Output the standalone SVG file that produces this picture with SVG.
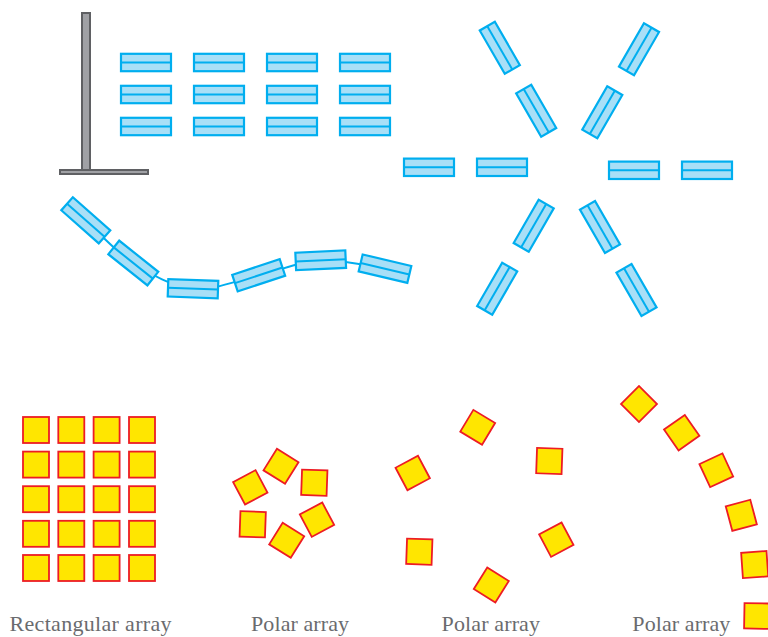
<svg xmlns="http://www.w3.org/2000/svg" xmlns:xlink="http://www.w3.org/1999/xlink" width="768" height="637" viewBox="0 0 768 637">
<style>
.panel rect{fill:#a8dff7;stroke:#00aeef;stroke-width:2.2}
.panel line{stroke:#00aeef;stroke-width:2}
.sq{fill:#ffe600;stroke:#ed1c24;stroke-width:1.8}
.pole{fill:#a0a1a5;stroke:#5f6063;stroke-width:2}
.lbl{font-family:"Liberation Serif","Times New Roman",serif;font-size:22px;fill:#6a6b6e}
.curve{fill:none;stroke:#00aeef;stroke-width:2}
</style>
<defs>
<g id="panel" class="panel"><rect x="-25" y="-8.7" width="50" height="17.4"/><line x1="-25" y1="0" x2="25" y2="0"/></g>
<rect id="sqg" class="sq" x="-13" y="-13" width="26" height="26"/>
<rect id="sqp" class="sq" x="-12.7" y="-12.7" width="25.4" height="25.4"/>
</defs>
<rect width="768" height="637" fill="#ffffff"/>

<g id="stand">
<rect class="pole" x="82" y="13" width="8" height="157"/>
<rect class="pole" x="60" y="170" width="88" height="4"/>
</g>

<g id="rect-array-panels">
<use xlink:href="#panel" transform="translate(146,62.5)"/>
<use xlink:href="#panel" transform="translate(219,62.5)"/>
<use xlink:href="#panel" transform="translate(292,62.5)"/>
<use xlink:href="#panel" transform="translate(365,62.5)"/>
<use xlink:href="#panel" transform="translate(146,94.5)"/>
<use xlink:href="#panel" transform="translate(219,94.5)"/>
<use xlink:href="#panel" transform="translate(292,94.5)"/>
<use xlink:href="#panel" transform="translate(365,94.5)"/>
<use xlink:href="#panel" transform="translate(146,126.5)"/>
<use xlink:href="#panel" transform="translate(219,126.5)"/>
<use xlink:href="#panel" transform="translate(292,126.5)"/>
<use xlink:href="#panel" transform="translate(365,126.5)"/>
</g>

<g id="polar-panels">
<use xlink:href="#panel" transform="translate(429,167.3)"/>
<use xlink:href="#panel" transform="translate(502,167.3)"/>
<use xlink:href="#panel" transform="translate(634,170.3)"/>
<use xlink:href="#panel" transform="translate(707,170.3)"/>
<use xlink:href="#panel" transform="translate(536.2,110.7) rotate(60)"/>
<use xlink:href="#panel" transform="translate(499.8,47.8) rotate(60)"/>
<use xlink:href="#panel" transform="translate(600,227) rotate(60)"/>
<use xlink:href="#panel" transform="translate(636.5,290) rotate(60)"/>
<use xlink:href="#panel" transform="translate(602.3,112.3) rotate(-60)"/>
<use xlink:href="#panel" transform="translate(639,49.3) rotate(-60)"/>
<use xlink:href="#panel" transform="translate(533.7,225.7) rotate(-60)"/>
<use xlink:href="#panel" transform="translate(497.2,288.7) rotate(-60)"/>
</g>

<g id="connectors">
<path class="curve" d="M85.8,220.3 C93.7,227.4 115.4,251.6 133.3,263 C151.2,274.4 172.1,286.6 193,288.7 C213.9,290.8 237.4,280 258.7,275.3 C280,270.6 299.7,261.4 320.7,260.3 C341.8,259.2 374.3,267.3 385,268.7"/>
</g>

<g id="path-array-panels">
<use xlink:href="#panel" transform="translate(85.8,220.3) rotate(41.5)"/>
<use xlink:href="#panel" transform="translate(133.3,263) rotate(38.6)"/>
<use xlink:href="#panel" transform="translate(193,288.7) rotate(2)"/>
<use xlink:href="#panel" transform="translate(258.7,275.3) rotate(-18.3)"/>
<use xlink:href="#panel" transform="translate(320.7,260.3) rotate(-2.6)"/>
<use xlink:href="#panel" transform="translate(385,268.7) rotate(13.3)"/>
</g>

<g id="rectangular-array">
<use xlink:href="#sqg" transform="translate(36,430)"/>
<use xlink:href="#sqg" transform="translate(71.3,430)"/>
<use xlink:href="#sqg" transform="translate(106.6,430)"/>
<use xlink:href="#sqg" transform="translate(142,430)"/>
<use xlink:href="#sqg" transform="translate(36,464.6)"/>
<use xlink:href="#sqg" transform="translate(71.3,464.6)"/>
<use xlink:href="#sqg" transform="translate(106.6,464.6)"/>
<use xlink:href="#sqg" transform="translate(142,464.6)"/>
<use xlink:href="#sqg" transform="translate(36,499.2)"/>
<use xlink:href="#sqg" transform="translate(71.3,499.2)"/>
<use xlink:href="#sqg" transform="translate(106.6,499.2)"/>
<use xlink:href="#sqg" transform="translate(142,499.2)"/>
<use xlink:href="#sqg" transform="translate(36,533.8)"/>
<use xlink:href="#sqg" transform="translate(71.3,533.8)"/>
<use xlink:href="#sqg" transform="translate(106.6,533.8)"/>
<use xlink:href="#sqg" transform="translate(142,533.8)"/>
<use xlink:href="#sqg" transform="translate(36,568)"/>
<use xlink:href="#sqg" transform="translate(71.3,568)"/>
<use xlink:href="#sqg" transform="translate(106.6,568)"/>
<use xlink:href="#sqg" transform="translate(142,568)"/>
<text class="lbl" x="9.5" y="630.5" textLength="162">Rectangular array</text>
</g>

<g id="polar-array-1">
<use xlink:href="#sqp" transform="translate(250.3,487.3) rotate(-28)"/>
<use xlink:href="#sqp" transform="translate(281,466.3) rotate(32)"/>
<use xlink:href="#sqp" transform="translate(314.3,482.7) rotate(2)"/>
<use xlink:href="#sqp" transform="translate(317,519.7) rotate(-28)"/>
<use xlink:href="#sqp" transform="translate(286.7,540.3) rotate(32)"/>
<use xlink:href="#sqp" transform="translate(252.7,524.3) rotate(2)"/>
<text class="lbl" x="251" y="630.5" textLength="98">Polar array</text>
</g>

<g id="polar-array-2">
<use xlink:href="#sqp" transform="translate(412.7,473) rotate(-28)"/>
<use xlink:href="#sqp" transform="translate(477.7,427.3) rotate(31)"/>
<use xlink:href="#sqp" transform="translate(549.3,461) rotate(2)"/>
<use xlink:href="#sqp" transform="translate(556.3,539.7) rotate(-28)"/>
<use xlink:href="#sqp" transform="translate(491.3,585) rotate(32)"/>
<use xlink:href="#sqp" transform="translate(419.3,551.7) rotate(2)"/>
<text class="lbl" x="441.5" y="630.5" textLength="98.5">Polar array</text>
</g>

<g id="polar-array-3">
<use xlink:href="#sqp" transform="translate(639,404) rotate(45)"/>
<use xlink:href="#sqp" transform="translate(681.7,432.7) rotate(55)"/>
<use xlink:href="#sqp" transform="translate(716.3,470.3) rotate(65)"/>
<use xlink:href="#sqp" transform="translate(741.3,515.3) rotate(75)"/>
<use xlink:href="#sqp" transform="translate(754.7,564.6) rotate(-4)"/>
<use xlink:href="#sqp" transform="translate(757,616) rotate(1)"/>
<text class="lbl" x="632.3" y="630.5" textLength="98">Polar array</text>
</g>
</svg>
